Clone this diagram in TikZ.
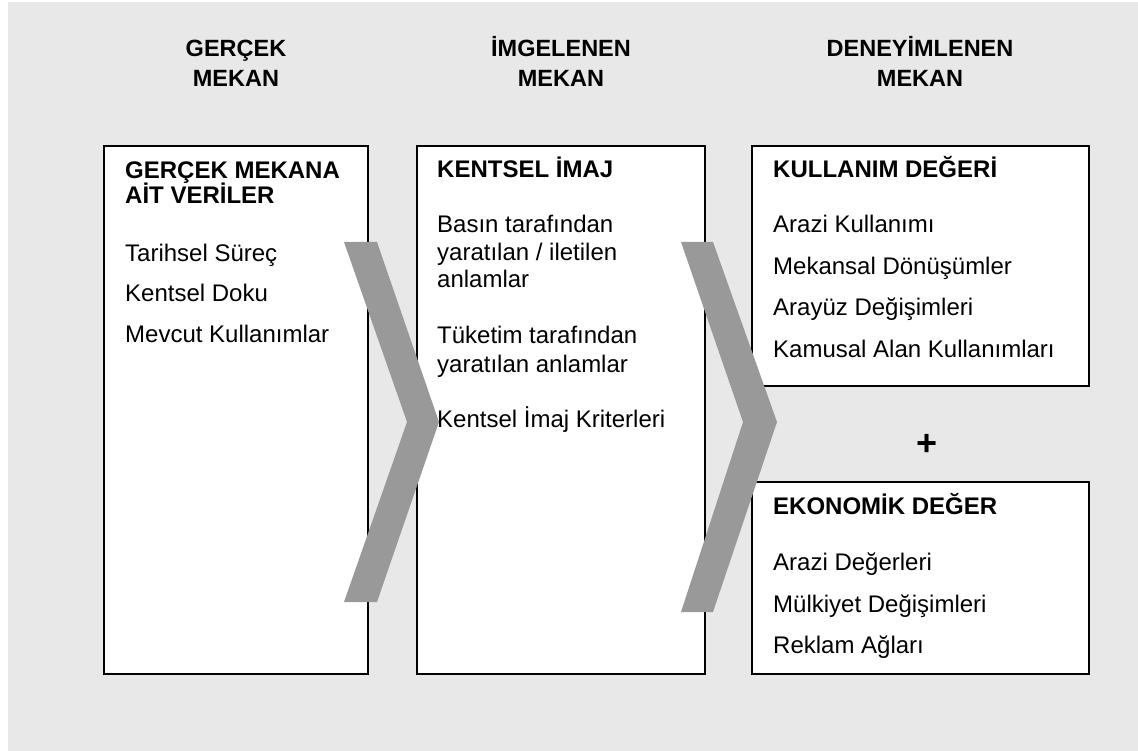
\documentclass[tikz,border=0pt]{standalone}
\usepackage{fontspec}
\setmainfont{Liberation Sans}
\definecolor{bggray}{RGB}{232,232,232}
\definecolor{chevgray}{RGB}{153,153,153}
\begin{document}
\begin{tikzpicture}[x=1pt,y=-1pt,
  panel/.style={draw=black, line width=1.6pt, fill=white, anchor=north west,
                inner sep=0pt, outer sep=0pt},
  txt/.style={anchor=base west, inner sep=0pt, font=\fontsize{24}{28}\selectfont},
  ttl/.style={anchor=base west, inner sep=0pt, font=\fontsize{24}{28}\bfseries\selectfont},
  head/.style={anchor=base, inner sep=0pt, font=\fontsize{23.5}{28}\bfseries\selectfont},
  chev/.style={fill=chevgray, draw=none}]
\useasboundingbox (0,0) rectangle (1138,751);
% page background
\fill[bggray] (8,2) rectangle (1138,751);

% column headings
\node[head] (h1a) at (236,57) {GERÇEK};
\node[head] (h1b) at (236,87) {MEKAN};
\node[head] (h2a) at (561,57) {İMGELENEN};
\node[head] (h2b) at (561,87) {MEKAN};
\node[head] (h3a) at (920,57) {DENEYİMLENEN};
\node[head] (h3b) at (920,87) {MEKAN};

% panels
\node[panel, minimum width=264pt, minimum height=528pt] (p1) at (104,146) {};
\node[panel, minimum width=288pt, minimum height=528pt] (p2) at (417,146) {};
\node[panel, minimum width=337pt, minimum height=240pt] (p3) at (752,146) {};
\node[panel, minimum width=337pt, minimum height=192pt] (p4) at (752,482) {};

% chevrons between the columns
\fill[chev] (344,242) -- (377,242) -- (439,422) -- (377,602) -- (344,602) -- (407,422) -- cycle;
\fill[chev] (681,242) -- (713,242) -- (777,422) -- (713,612) -- (681,612) -- (743,422) -- cycle;

% panel 1
\node[ttl] (t1a) at (125,179) {GERÇEK MEKANA};
\node[ttl] (t1b) at (125,204) {AİT VERİLER};
\node[txt] (i1a) at (125,262) {Tarihsel Süreç};
\node[txt] (i1b) at (125,302) {Kentsel Doku};
\node[txt] (i1c) at (125,343) {Mevcut Kullanımlar};

% panel 2
\node[ttl] (t2) at (437,178) {KENTSEL İMAJ};
\node[txt] (i2a) at (437,233) {Basın tarafından};
\node[txt] (i2b) at (437,261) {yaratılan / iletilen};
\node[txt] (i2c) at (437,288) {anlamlar};
\node[txt] (i2d) at (437,344) {Tüketim tarafından};
\node[txt] (i2e) at (437,372) {yaratılan anlamlar};
\node[txt] (i2f) at (437,427) {Kentsel İmaj Kriterleri};

% panel 3
\node[ttl] (t3) at (773,178) {KULLANIM DEĞERİ};
\node[txt] (i3a) at (773,233) {Arazi Kullanımı};
\node[txt] (i3b) at (773,275) {Mekansal Dönüşümler};
\node[txt] (i3c) at (773,316) {Arayüz Değişimleri};
\node[txt] (i3d) at (773,357) {Kamusal Alan Kullanımları};

% plus sign between the value panels
\node[inner sep=0pt, font=\fontsize{36}{40}\bfseries\selectfont] (plus) at (927,445) {+};

% panel 4
\node[ttl] (t4) at (773,514) {EKONOMİK DEĞER};
\node[txt] (i4a) at (773,570) {Arazi Değerleri};
\node[txt] (i4b) at (773,612) {Mülkiyet Değişimleri};
\node[txt] (i4c) at (773,653) {Reklam Ağları};
\end{tikzpicture}
\end{document}
